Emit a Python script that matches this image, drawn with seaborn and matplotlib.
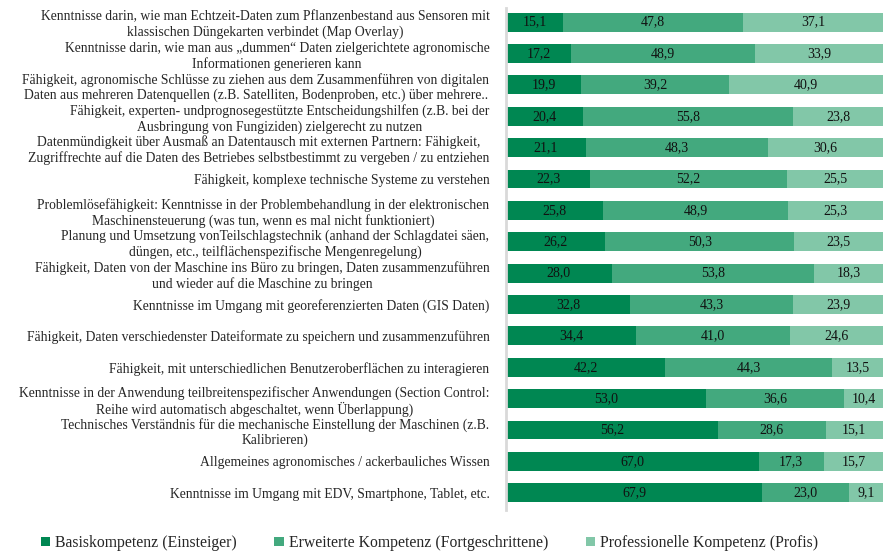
import matplotlib
matplotlib.use("Agg")
import matplotlib.pyplot as plt
import seaborn as sns
import pandas as pd
from matplotlib.patches import Patch

# data, top to bottom
labels = [
    "Kenntnisse darin, wie man Echtzeit-Daten zum Pflanzenbestand aus Sensoren mit\nklassischen Düngekarten verbindet (Map Overlay)",
    "Kenntnisse darin, wie man aus „dummen“ Daten zielgerichtete agronomische\nInformationen generieren kann",
    "Fähigkeit, agronomische Schlüsse zu ziehen aus dem Zusammenführen von digitalen\nDaten aus mehreren Datenquellen (z.B. Satelliten, Bodenproben, etc.) über mehrere..",
    "Fähigkeit, experten- undprognosegestützte Entscheidungshilfen (z.B. bei der\nAusbringung von Fungiziden) zielgerecht zu nutzen",
    "Datenmündigkeit über Ausmaß an Datentausch mit externen Partnern: Fähigkeit,\nZugriffrechte auf die Daten des Betriebes selbstbestimmt zu vergeben / zu entziehen",
    "Fähigkeit, komplexe technische Systeme zu verstehen",
    "Problemlösefähigkeit: Kenntnisse in der Problembehandlung in der elektronischen\nMaschinensteuerung (was tun, wenn es mal nicht funktioniert)",
    "Planung und Umsetzung vonTeilschlagstechnik (anhand der Schlagdatei säen,\ndüngen, etc., teilflächenspezifische Mengenregelung)",
    "Fähigkeit, Daten von der Maschine ins Büro zu bringen, Daten zusammenzuführen\nund wieder auf die Maschine zu bringen",
    "Kenntnisse im Umgang mit georeferenzierten Daten (GIS Daten)",
    "Fähigkeit, Daten verschiedenster Dateiformate zu speichern und zusammenzuführen",
    "Fähigkeit, mit unterschiedlichen Benutzeroberflächen zu interagieren",
    "Kenntnisse in der Anwendung teilbreitenspezifischer Anwendungen (Section Control:\nReihe wird automatisch abgeschaltet, wenn Überlappung)",
    "Technisches Verständnis für die mechanische Einstellung der Maschinen (z.B.\nKalibrieren)",
    "Allgemeines agronomisches / ackerbauliches Wissen",
    "Kenntnisse im Umgang mit EDV, Smartphone, Tablet, etc.",
]
basis = [15.1, 17.2, 19.9, 20.4, 21.1, 22.3, 25.8, 26.2, 28.0, 32.8, 34.4, 42.2, 53.0, 56.2, 67.0, 67.9]
erweitert = [47.8, 48.9, 39.2, 55.8, 48.3, 52.2, 48.9, 50.3, 53.8, 43.3, 41.0, 44.3, 36.6, 28.6, 17.3, 23.0]
profi = [37.1, 33.9, 40.9, 23.8, 30.6, 25.5, 25.3, 23.5, 18.3, 23.9, 24.6, 13.5, 10.4, 15.1, 15.7, 9.1]

series_names = ["Basiskompetenz (Einsteiger)", "Erweiterte Kompetenz (Fortgeschrittene)",
                "Professionelle Kompetenz (Profis)"]
colors = ["#008752", "#43a97e", "#82c7a8"]

df = pd.DataFrame({"label": labels, "basis": basis, "erweitert": erweitert, "profi": profi})
df["c1"] = df["basis"]
df["c2"] = df["basis"] + df["erweitert"]
df["c3"] = df["c2"] + df["profi"]

sns.set_style("white")
plt.rcParams["font.family"] = ["Liberation Serif", "DejaVu Serif"]

fig = plt.figure(figsize=(8.93, 5.53), dpi=100)
ax = fig.add_axes([0.5667, 0.0778, 0.4222, 0.9077])

# stacked bars: draw cumulative totals from the back to the front
for col, c in zip(["c3", "c2", "c1"], colors[::-1]):
    sns.barplot(data=df, x=col, y="label", color=c, width=0.6, linewidth=0,
                saturation=1, ax=ax)

# value labels in the middle of each segment
for i, row in df.iterrows():
    starts = [0, row["c1"], row["c2"]]
    for s, v in zip(starts, [row["basis"], row["erweitert"], row["profi"]]):
        ax.text(s + v / 2, i, f"{v:.1f}".replace(".", ","), ha="center", va="center",
                fontsize=10, color="#111111")

ax.set_xlim(0, 100)
ax.set_ylim(15.55, -0.45)
ax.set_xlabel("")
ax.set_ylabel("")
ax.set_xticks([])
for side in ["top", "right", "bottom"]:
    ax.spines[side].set_visible(False)
ax.spines["left"].set_color("#d9d9d9")
ax.spines["left"].set_linewidth(2)
ax.tick_params(axis="y", length=0, pad=12, labelsize=9.8)
for t in ax.get_yticklabels():
    t.set_multialignment("center")

handles = [Patch(facecolor=c, edgecolor="none") for c in colors]
fig.legend(handles, series_names, loc="lower left", bbox_to_anchor=(0.03, -0.022),
           ncol=3, frameon=False, fontsize=11.3, handlelength=0.6, handleheight=0.6,
           handletextpad=0.3, columnspacing=2.4)

fig.savefig("out.png", dpi=100)
